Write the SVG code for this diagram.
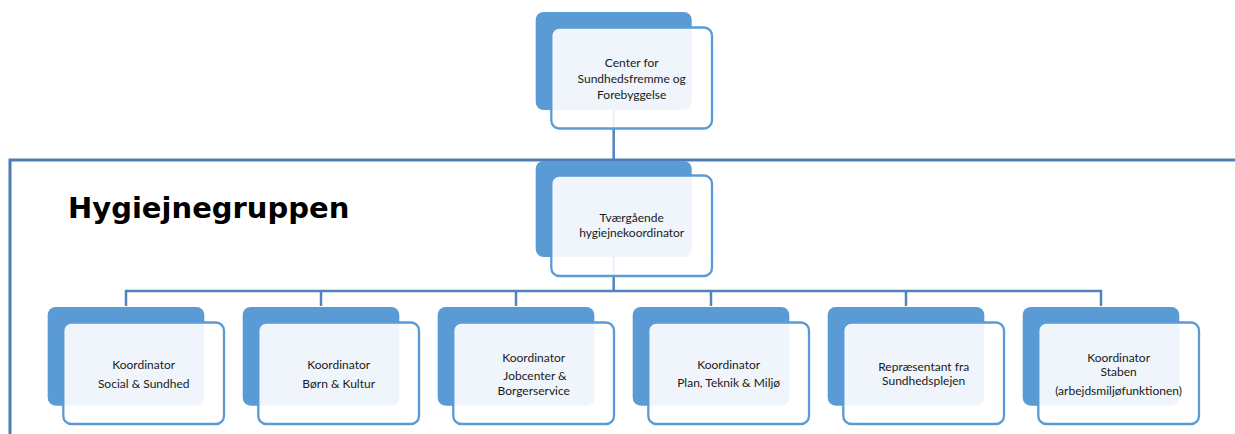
<svg xmlns="http://www.w3.org/2000/svg" width="1235" height="434" viewBox="0 0 1235 434">
<style>
.dark{fill:#5B9BD5}
.light{fill:#FFFFFF;fill-opacity:0.9;stroke:#5B9BD5;stroke-width:2.3}
.conn{fill:none;stroke:#4F84C0;stroke-width:2.5}
.frame{fill:none;stroke:#4E7DB5;stroke-width:3}
.t{font-family:Lato,"Open Sans","Liberation Sans",sans-serif;font-size:12px;fill:#1a1a1a;text-anchor:middle}
.title{font-family:"DejaVu Sans",Verdana,sans-serif;font-weight:bold;font-size:29px;fill:#000}
</style>
<rect width="1235" height="434" fill="#fff"/>
<g id="frame">
<path class="frame" d="M10,434 V160 H1235"/>
<text class="title" x="68" y="218">Hygiejnegruppen</text>
</g>
<g id="connectors">
<path class="conn" d="M613.7,110 V159"/>
<path class="conn" d="M613.7,256 V291"/>
<path class="conn" d="M126,306 V291 H1101 V306"/>
<path class="conn" d="M321,291 V306"/>
<path class="conn" d="M516,291 V306"/>
<path class="conn" d="M711,291 V306"/>
<path class="conn" d="M906,291 V306"/>
</g>
<g id="n-center">
<rect class="dark" x="535.7" y="12" width="156" height="98" rx="8"/>
<rect class="light" x="551.3" y="27.5" width="160.7" height="101" rx="8"/>
<text class="t" x="631.7" y="67">Center for</text>
<text class="t" x="631.7" y="83">Sundhedsfremme og</text>
<text class="t" x="631.7" y="99">Forebyggelse</text>
</g>
<g id="n-tvaer">
<rect class="dark" x="535.7" y="161" width="156" height="96" rx="8"/>
<rect class="light" x="551.3" y="175.5" width="160.7" height="100.5" rx="8"/>
<text class="t" x="631.7" y="222">Tværgående</text>
<text class="t" x="631.7" y="237">hygiejnekoordinator</text>
</g>
<g id="n1">
<rect class="dark" x="47.7" y="307" width="156.6" height="98.7" rx="8"/>
<rect class="light" x="63.3" y="322.5" width="160.7" height="101.5" rx="8"/>
<text class="t" x="143.7" y="369">Koordinator</text>
<text class="t" x="143.7" y="388">Social &amp; Sundhed</text>
</g>
<g id="n2">
<rect class="dark" x="242.7" y="307" width="156.6" height="98.7" rx="8"/>
<rect class="light" x="258.3" y="322.5" width="160.7" height="101.5" rx="8"/>
<text class="t" x="338.7" y="369">Koordinator</text>
<text class="t" x="338.7" y="388">Børn &amp; Kultur</text>
</g>
<g id="n3">
<rect class="dark" x="437.7" y="307" width="156.6" height="98.7" rx="8"/>
<rect class="light" x="453.3" y="322.5" width="160.7" height="101.5" rx="8"/>
<text class="t" x="533.7" y="362">Koordinator</text>
<text class="t" x="535" y="380">Jobcenter &amp;</text>
<text class="t" x="533.7" y="395">Borgerservice</text>
</g>
<g id="n4">
<rect class="dark" x="632.7" y="307" width="156.6" height="98.7" rx="8"/>
<rect class="light" x="648.3" y="322.5" width="160.7" height="101.5" rx="8"/>
<text class="t" x="728.7" y="368.5">Koordinator</text>
<text class="t" x="728.7" y="387">Plan, Teknik &amp; Miljø</text>
</g>
<g id="n5">
<rect class="dark" x="827.7" y="307" width="156.6" height="98.7" rx="8"/>
<rect class="light" x="843.3" y="322.5" width="160.7" height="101.5" rx="8"/>
<text class="t" x="923.7" y="370.5">Repræsentant fra</text>
<text class="t" x="923.7" y="385">Sundhedsplejen</text>
</g>
<g id="n6">
<rect class="dark" x="1022.7" y="307" width="156.6" height="98.7" rx="8"/>
<rect class="light" x="1038.3" y="322.5" width="160.7" height="101.5" rx="8"/>
<text class="t" x="1118.6" y="362">Koordinator</text>
<text class="t" x="1118.6" y="376">Staben</text>
<text class="t" x="1118.6" y="395">(arbejdsmiljøfunktionen)</text>
</g>
</svg>
